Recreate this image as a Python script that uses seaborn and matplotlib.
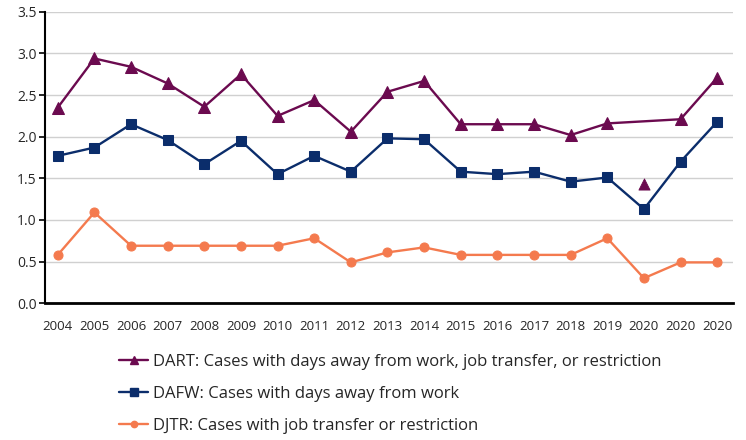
import numpy as np
import pandas as pd
import seaborn as sns
import matplotlib.pyplot as plt

years = ["2004", "2005", "2006", "2007", "2008", "2009", "2010", "2011", "2012",
         "2013", "2014", "2015", "2016", "2017", "2018", "2019", "2020", "2020", "2020"]
dart = [2.35, 2.94, 2.84, 2.64, 2.36, 2.75, 2.25, 2.44, 2.06,
        2.54, 2.67, 2.15, 2.15, 2.15, 2.02, 2.16, 1.43, 2.21, 2.71]
dafw = [1.77, 1.87, 2.15, 1.96, 1.67, 1.95, 1.55, 1.77, 1.58,
        1.98, 1.97, 1.58, 1.55, 1.58, 1.46, 1.51, 1.13, 1.70, 2.18]
djtr = [0.58, 1.09, 0.69, 0.69, 0.69, 0.69, 0.69, 0.78, 0.49,
        0.61, 0.67, 0.58, 0.58, 0.58, 0.58, 0.78, 0.30, 0.49, 0.49]
# the DART line skips this point (drawn as a lone marker)
dart_skip = 16

labels = ["DART: Cases with days away from work, job transfer, or restriction",
          "DAFW: Cases with days away from work",
          "DJTR: Cases with job transfer or restriction"]
colors = ["#6b0a4f", "#0b2d6b", "#f47a4e"]
markers = ["^", "s", "o"]
msizes = [8, 7.5, 6.5]

sns.set_theme(style="white")
plt.rcParams["font.family"] = ["Open Sans", "DejaVu Sans"]

pos = np.arange(len(years))
df = pd.DataFrame({"pos": pos, "DART": dart, "DAFW": dafw, "DJTR": djtr})

fig = plt.figure(figsize=(7.46, 4.4), dpi=100)
ax = fig.add_axes([0.060, 0.311, 0.923, 0.662])

handles = []
for col, lab, c, m, ms in zip(["DART", "DAFW", "DJTR"], labels, colors, markers, msizes):
    d = df
    if col == "DART":
        d = df.drop(index=dart_skip)
    sns.lineplot(data=d, x="pos", y=col, ax=ax, color=c, marker=m, markersize=ms,
                 markeredgecolor=c, linewidth=1.7, zorder=3)
    h, = ax.plot([], [], color=c, marker=m, markersize=ms * 0.7, linewidth=1.7,
                 markeredgecolor=c)
    handles.append(h)

sns.scatterplot(x=[pos[dart_skip]], y=[dart[dart_skip]], ax=ax, color=colors[0],
                marker="^", s=64, edgecolor=colors[0], zorder=4)

ax.set_xlim(-0.355, 18.44)
ax.set_ylim(0, 3.5)
ax.set_xticks(pos)
ax.set_xticklabels(years, fontsize=9.5)
ax.set_yticks(np.arange(0, 3.51, 0.5))
ax.set_yticklabels([f"{v:.1f}" for v in np.arange(0, 3.51, 0.5)], fontsize=10)
ax.set_xlabel("")
ax.set_ylabel("")
ax.yaxis.grid(True, color="#d0d0d0", linewidth=1)
ax.xaxis.grid(False)
for s in ["top", "right"]:
    ax.spines[s].set_visible(False)
ax.spines["left"].set_color("black")
ax.spines["bottom"].set_color("black")
ax.spines["left"].set_linewidth(1.5)
ax.spines["bottom"].set_linewidth(2)
ax.tick_params(axis="y", left=True, length=4, width=1.2, color="black", pad=2)
ax.tick_params(axis="x", bottom=False, pad=6)

fig.legend(handles, labels, loc="upper left", bbox_to_anchor=(0.151, 0.21),
           frameon=False, fontsize=12, handlelength=1.75, labelspacing=0.95,
           handletextpad=0.3, borderaxespad=0)

fig.savefig("out.png", dpi=100)
